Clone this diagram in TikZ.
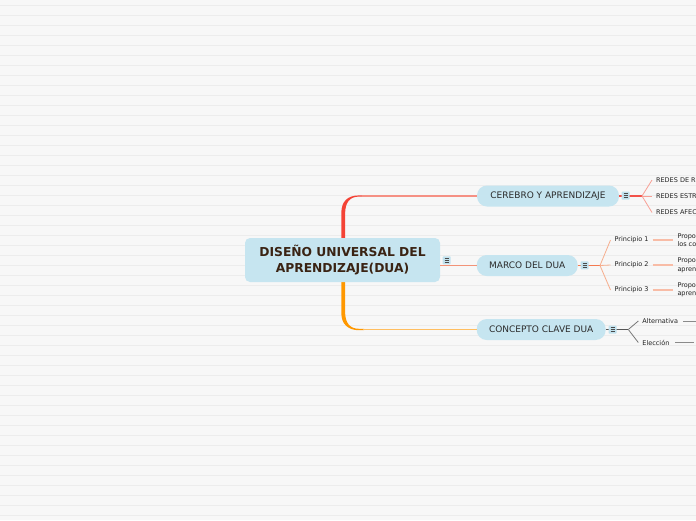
\documentclass[tikz,border=0pt]{standalone}
\usepackage{fontspec}
\setmainfont{DejaVu Sans}
\definecolor{bgcol}{HTML}{F7F7F7}
\definecolor{gridcol}{HTML}{ECECEC}
\definecolor{nodeblue}{HTML}{C6E5F0}
\definecolor{iconblue}{HTML}{C2E2EE}
\definecolor{icongray}{HTML}{4A4A4A}
\definecolor{centraltext}{HTML}{3A2313}
\definecolor{topictext}{HTML}{2B2B2B}
\definecolor{leaftext}{HTML}{222222}
\definecolor{redthick}{HTML}{F44336}
\definecolor{redthin}{HTML}{F59084}
\definecolor{orangethick}{HTML}{FF9800}
\definecolor{orangethin}{HTML}{FFBE60}
\definecolor{marcolinkcol}{HTML}{F29378}
\definecolor{certrunkcol}{HTML}{F2524A}
\definecolor{cerbranchcol}{HTML}{F7A096}
\definecolor{martrunkcol}{HTML}{F47A50}
\definecolor{marbranchcol}{HTML}{F6AE8E}
\definecolor{marleafcol}{HTML}{F8BCA6}
\definecolor{contrunkcol}{HTML}{555555}
\definecolor{conbranchcol}{HTML}{777777}
\definecolor{conleafcol}{HTML}{8A8A8A}
\begin{document}
\begin{tikzpicture}[x=1pt,y=-1pt,
  central/.style={rectangle, rounded corners=5pt, fill=nodeblue, minimum width=195pt,
    minimum height=44pt, inner sep=0pt, align=center,
    font=\fontsize{12.3}{15.5}\selectfont\bfseries, text=centraltext},
  topic/.style={rectangle, rounded corners=10pt, fill=nodeblue, minimum height=21pt,
    inner sep=0pt, font=\fontsize{9}{11}\selectfont, text=topictext},
  leaf/.style={anchor=west, inner xsep=3.9pt, inner ysep=1pt, align=left,
    font=\fontsize{6.5}{8.5}\selectfont, text=leaftext},
  menuicon/.style={rectangle, fill=iconblue, minimum size=8pt, inner sep=0pt, rounded corners=0.8pt,
    path picture={\foreach \d in {-2,0,2}
      \draw[icongray, line width=0.6pt] ([xshift=-2pt,yshift=\d pt]path picture bounding box.center)
        -- ([xshift=2pt,yshift=\d pt]path picture bounding box.center);}},
  marcolink/.style={draw=marcolinkcol, line width=1.3pt},
  certrunk/.style={draw=certrunkcol, line width=1.3pt},
  cerbranch/.style={draw=cerbranchcol, line width=0.8pt},
  martrunk/.style={draw=martrunkcol, line width=1.3pt},
  marbranch/.style={draw=marbranchcol, line width=0.8pt},
  marleaf/.style={draw=marleafcol, line width=2pt},
  contrunk/.style={draw=contrunkcol, line width=1.3pt},
  conbranch/.style={draw=conbranchcol, line width=0.8pt},
  conleaf/.style={draw=conleafcol, line width=1pt}
]
\useasboundingbox (0,0) rectangle (696,520);
\fill[bgcol] (0,0) rectangle (696,520);
\foreach \y in {5,15,...,515} \draw[gridcol, line width=0.9pt] (0,\y) -- (696,\y);
\clip (0,0) rectangle (696,520);

% main curved connectors (tapered)
\fill[redthick] (341.3,238) -- (341.3,213) .. controls (341.3,201) and (348,195.4) .. (359,195.4)
  -- (363,195.4) -- (363,196.6) -- (359,196.6) .. controls (350,196.6) and (345.1,202) .. (345.1,214)
  -- (345.1,238) -- cycle;
\fill[orangethick] (341.3,282) -- (341.3,313) .. controls (341.3,324) and (348,330.2) .. (359,330.2)
  -- (364,330.2) -- (364,328.8) -- (359,328.8) .. controls (350,328.8) and (345.1,323) .. (345.1,312)
  -- (345.1,282) -- cycle;
\coordinate (redend) at (362,196);
\coordinate (orangeend) at (363,329.5);

% nodes
\node[central] (dua) at (342.5,260) {DISEÑO UNIVERSAL DEL\\APRENDIZAJE(DUA)};
\node[topic, minimum width=142pt] (cer) at (548,196) {CEREBRO Y APRENDIZAJE};
\node[topic, minimum width=101pt] (mar) at (527.2,265.5) {MARCO DEL DUA};
\node[topic, minimum width=129pt] (con) at (541.2,329.5) {CONCEPTO CLAVE DUA};

\draw[draw=redthin, line width=1.3pt] (redend) -- (cer.west);
\draw[draw=orangethin, line width=1.5pt] (orangeend) -- (con.west);
\draw[marcolink] (dua.east |- mar.west) -- (mar.west);
\node[menuicon] (duai) at (446.7,260.3) {};

% CEREBRO group
\coordinate (cerfan) at (642,196);
\draw[certrunk] (cer.east) -- (cerfan);
\node[menuicon] (ceri) at (625.5,195.7) {};
\node[leaf] (r1) at (652,180) {REDES DE RECONOCIMIENTO};
\node[leaf] (r2) at (652,196) {REDES ESTRATÉGICAS};
\node[leaf] (r3) at (652,212.5) {REDES AFECTIVAS};
\draw[cerbranch] (cerfan) -- (r1.west);
\draw[cerbranch] (cerfan) -- (r2.west);
\draw[cerbranch] (cerfan) -- (r3.west);

% MARCO group
\coordinate (marfan) at (600,265.5);
\draw[martrunk] (mar.east) -- (marfan);
\node[menuicon] (mari) at (584.5,265.3) {};
\node[leaf] (p1) at (610.5,240) {Principio 1};
\node[leaf] (p2) at (610.5,265) {Principio 2};
\node[leaf] (p3) at (610.5,290) {Principio 3};
\draw[marbranch] (marfan) -- (p1.west);
\draw[marbranch] (marfan) -- (p2.west);
\draw[marbranch] (marfan) -- (p3.west);
\node[leaf] (q1) at (673.4,240.2) {Proporcionar\\los contenidos};
\node[leaf] (q2) at (673.4,265.2) {Proporcionar\\aprendizaje};
\node[leaf] (q3) at (673.4,289.7) {Proporcionar\\aprendizaje};
\draw[marleaf] (p1.east) -- (q1.west |- p1.east);
\draw[marleaf] (p2.east) -- (q2.west |- p2.east);
\draw[marleaf] (p3.east) -- (q3.west |- p3.east);

% CONCEPTO group
\coordinate (confan) at (628.3,329.5);
\draw[contrunk] (con.east) -- (confan);
\node[menuicon] (coni) at (612.5,329.7) {};
\node[leaf] (c1) at (638.3,321) {Alternativa};
\node[leaf] (c2) at (638.3,342.5) {Elección};
\draw[conbranch] (confan) -- (c1.west);
\draw[conbranch] (confan) -- (c2.west);
\coordinate (c1end) at (698,321.5);
\coordinate (c2end) at (694,342.5);
\draw[conleaf] ([xshift=1pt,yshift=-0.5pt]c1.east) -- (c1end);
\draw[conleaf] ([xshift=2pt]c2.east) -- (c2end);
\end{tikzpicture}
\end{document}
